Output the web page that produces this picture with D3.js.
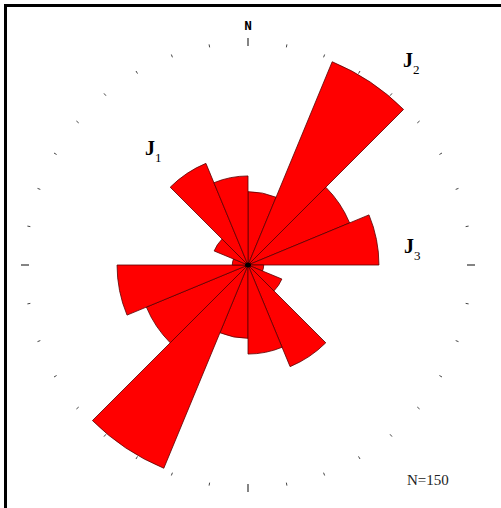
<!DOCTYPE html>
<html lang="en">
  <head>
    <meta charset="UTF-8" />
    <title>Joint rose diagram</title>
    <style>
      body { margin: 0; background: #fff; }
      svg { display: block; }
    </style>
  </head>
  <body>
    <div class="rose"></div>
    <script src="https://cdn.jsdelivr.net/npm/d3@7"></script>
    <script>
    var w = 501, h = 508;
    var cx = 248, cy = 265;

    // azimuth bins (22.5 deg), counts; the rose is bidirectional
    var binStarts = [0, 22.5, 45, 67.5, 90, 112.5, 135, 157.5];
    var counts = [14, 42, 21, 25, 3, 7, 21, 17];
    var totalN = 150;

    var jointLabels = [
      { name: "J", sub: "1", x: 145, y: 155 },
      { name: "J", sub: "2", x: 403, y: 67 },
      { name: "J", sub: "3", x: 404, y: 253 }
    ];

    var tickAngles = d3.range(0, 360, 10);

    var svg = d3.select(".rose").append("svg")
      .attr("width", w)
      .attr("height", h);

    // frame (only top and left edges show in the picture)
    svg.append("rect")
      .attr("x", 5.5).attr("y", 5.5)
      .attr("width", 520).attr("height", 520)
      .attr("fill", "none")
      .attr("stroke", "#000")
      .attr("stroke-width", 3);

    var r = d3.scaleLinear().domain([0, 42]).range([0, 220]);
    var rad = function(deg) { return deg * Math.PI / 180; };

    var g = svg.append("g").attr("transform", "translate(" + cx + "," + cy + ")");

    var petals = [];
    binStarts.forEach(function(a, i) {
      petals.push({ start: a, count: counts[i] });
      petals.push({ start: a + 180, count: counts[i] });
    });

    var arc = d3.arc()
      .innerRadius(0)
      .outerRadius(function(d) { return r(d.count); })
      .startAngle(function(d) { return rad(d.start); })
      .endAngle(function(d) { return rad(d.start + 22.5); });

    g.selectAll("path.petal")
      .data(petals)
      .enter()
      .append("path")
      .attr("class", "petal")
      .attr("d", arc)
      .attr("fill", "#ff0000")
      .attr("stroke", "#5a0000")
      .attr("stroke-width", 0.8)
      .attr("stroke-linejoin", "miter");

    g.append("ellipse")
      .attr("rx", 3).attr("ry", 2.5)
      .attr("fill", "#000");

    // compass ticks every 10 deg
    g.selectAll("line.tick")
      .data(tickAngles)
      .enter()
      .append("line")
      .attr("class", "tick")
      .each(function(d) {
        var big = d % 90 === 0;
        var r0 = big ? 219 : 221, r1 = big ? 227 : 224;
        var s = Math.sin(rad(d)), c = -Math.cos(rad(d));
        d3.select(this)
          .attr("x1", r0 * s).attr("y1", r0 * c)
          .attr("x2", r1 * s).attr("y2", r1 * c)
          .attr("stroke", big ? "#333" : "#444")
          .attr("stroke-width", big ? 1.2 : 1);
      });

    svg.append("text")
      .attr("x", cx)
      .attr("y", 30)
      .attr("text-anchor", "middle")
      .attr("font-family", "'DejaVu Sans Condensed', 'Liberation Sans Narrow', sans-serif")
      .attr("font-weight", "bold")
      .attr("font-size", 12)
      .attr("transform", "translate(" + cx + ",30) scale(0.85,1.05) translate(" + (-cx) + ",-30)")
      .text("N");

    jointLabels.forEach(function(l) {
      var t = svg.append("text")
        .attr("x", l.x)
        .attr("y", l.y)
        .attr("font-family", "'Liberation Serif', 'DejaVu Serif', serif")
        .attr("font-weight", "bold")
        .attr("font-size", 20)
        .attr("fill", "#000");
      t.append("tspan").text(l.name);
      t.append("tspan")
        .attr("dy", 7)
        .attr("font-size", 13)
        .attr("font-weight", "normal")
        .text(l.sub);
    });

    svg.append("text")
      .attr("x", 407)
      .attr("y", 485)
      .attr("font-family", "'Liberation Serif', 'DejaVu Serif', serif")
      .attr("font-size", 15)
      .attr("fill", "#222")
      .text("N=" + totalN);
    </script>
  </body>
</html>
